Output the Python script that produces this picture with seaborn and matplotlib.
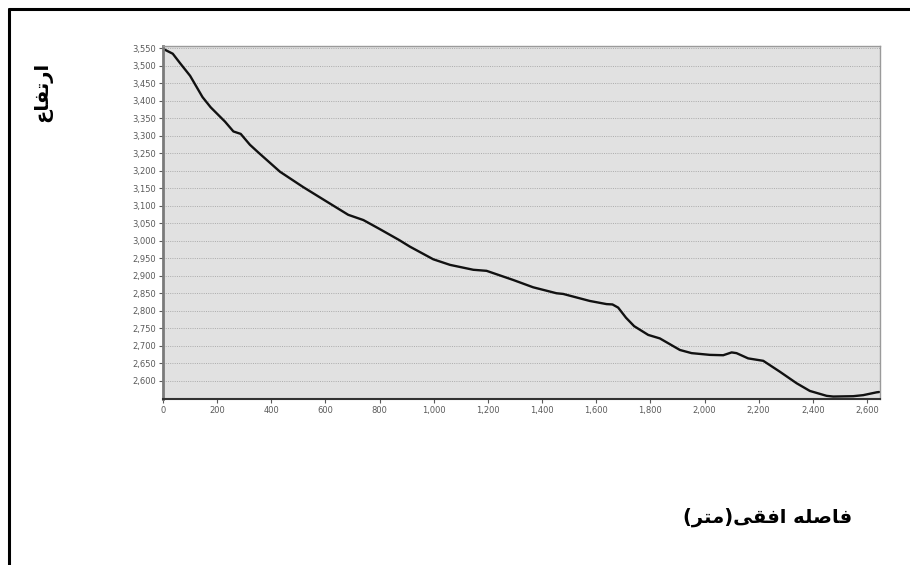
import seaborn as sns
import matplotlib.pyplot as plt
from matplotlib.lines import Line2D
from matplotlib.ticker import FuncFormatter
import pandas as pd

# profile data
dist = [0, 36, 63, 100, 146, 176, 229, 260, 287, 321, 352, 432, 518, 604,
        684, 740, 801, 872, 912, 998, 1060, 1146, 1195, 1293, 1367, 1453,
        1478, 1576, 1638, 1660, 1681, 1710, 1740, 1792, 1835, 1909, 1952,
        2020, 2069, 2100, 2118, 2161, 2217, 2278, 2340, 2389, 2451, 2475,
        2549, 2586, 2635, 2645]
elev = [3548, 3534, 3507, 3471, 3410, 3381, 3340, 3312, 3305, 3274, 3252,
        3197, 3153, 3112, 3074, 3059, 3033, 3002, 2983, 2947, 2931, 2917,
        2914, 2888, 2867, 2850, 2848, 2828, 2819, 2818, 2809, 2780, 2756,
        2731, 2721, 2688, 2679, 2674, 2673, 2681, 2679, 2664, 2657, 2626,
        2593, 2571, 2557, 2555, 2556, 2559, 2567, 2568]
x_ticks = list(range(0, 2601, 200))
y_ticks = list(range(2600, 3551, 50))

# labels, pre-shaped (presentation forms, visual order) since matplotlib has no bidi
y_label = "\uFEC9\uFE8E\uFED4\uFE97\uFEAD\uFE8D"  # ارتفاع
x_label = ("(" + "\uFEAE\uFE98\uFEE3" + ")" + "\uFEF0\uFED8\uFED3\uFE8D"
           + " " + "\uFEEA\uFEE0\uFEBB\uFE8E\uFED3")  # فاصله افقی(متر)

sns.set_theme(style="white")
plt.rcParams['font.family'] = ['DejaVu Sans']

df = pd.DataFrame({"dist": dist, "elev": elev})

fig = plt.figure(figsize=(9.1, 5.65), dpi=100)
ax = fig.add_axes([163 / 910, 1 - 399 / 565, (880 - 163) / 910, (399 - 46) / 565])
ax.set_facecolor("#e1e1e1")

sns.lineplot(data=df, x="dist", y="elev", ax=ax, color="#111111", linewidth=1.7)

ax.set_xlim(0, 2648)
ax.set_ylim(2548, 3556)
ax.set_xticks(x_ticks)
ax.set_yticks(y_ticks)
fmt = FuncFormatter(lambda v, p: f"{int(v):,}")
ax.xaxis.set_major_formatter(fmt)
ax.yaxis.set_major_formatter(fmt)
ax.tick_params(axis="both", labelsize=6, colors="#5a5a5a", length=3,
               width=0.8, pad=2, direction="out")
ax.tick_params(axis="both", which="both", bottom=True, left=True)
ax.set_xlabel("")
ax.set_ylabel("")

ax.yaxis.grid(True, linestyle=(0, (1, 1.3)), color="#ababab", linewidth=0.7)
ax.xaxis.grid(False)

ax.spines["left"].set_color("#7a7a7a")
ax.spines["left"].set_linewidth(2)
ax.spines["bottom"].set_color("#333333")
ax.spines["bottom"].set_linewidth(1.5)
ax.spines["top"].set_color("#9a9a9a")
ax.spines["top"].set_linewidth(1)
ax.spines["right"].set_color("#9a9a9a")
ax.spines["right"].set_linewidth(1)

# axis titles
fig.text(43 / 910, 1 - 92 / 565, y_label, rotation=90, fontsize=14,
         fontweight="bold", ha="center", va="center", color="black")
fig.text(768 / 910, 1 - 517 / 565, x_label, fontsize=14,
         fontweight="bold", ha="center", va="center", color="black")

# outer frame (left and top edges)
fig.add_artist(Line2D([9 / 910, 9 / 910], [0, 1 - 9 / 565], color="black",
                      linewidth=2.2, transform=fig.transFigure))
fig.add_artist(Line2D([9 / 910, 1], [1 - 9 / 565, 1 - 9 / 565], color="black",
                      linewidth=2.2, transform=fig.transFigure))

fig.savefig("out.png", dpi=100)
